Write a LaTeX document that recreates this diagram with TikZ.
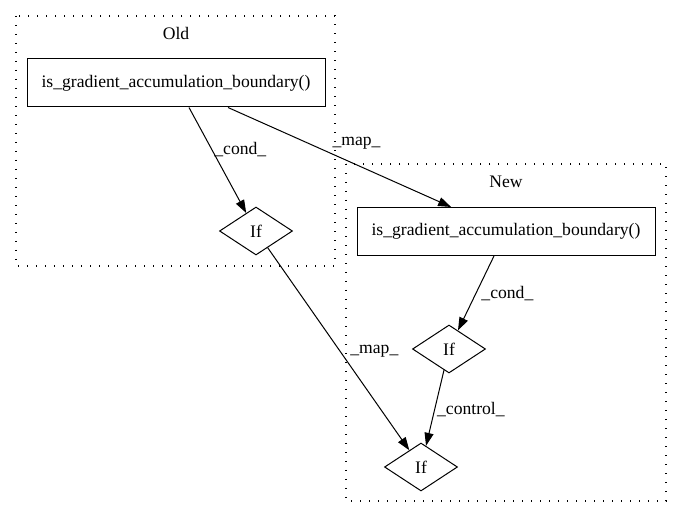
\documentclass[tikz,border=0pt]{standalone}
\usepackage{fontspec}
\setmainfont{Liberation Serif}
\usetikzlibrary{shapes.geometric,arrows.meta}
\tikzset{
  cluster/.style={draw, line width=1.1pt, dash pattern=on 1.1pt off 7.9pt},
  fnbox/.style={draw, rectangle, line width=1pt, minimum width=298pt, minimum height=48pt, inner sep=0pt},
  ifnode/.style={draw, diamond, line width=1pt, minimum width=73pt, minimum height=48pt, inner sep=0pt},
  flow/.style={-{Triangle[length=13pt,width=9pt]}, line width=1pt},
  lbl/.style={right, inner sep=2pt}
}
\begin{document}
\begin{tikzpicture}[x=1pt,y=-1pt,font=\fontsize{17.6}{20}\selectfont]
  \useasboundingbox (0,0) rectangle (683,518);
  % Cluster Old
  \draw[cluster] (16,16) rectangle (335,266);
  \node (oldtitle) at (176,33) {Old};
  \node[fnbox] (oldfn) at (176,83) {is\_gradient\_accumulation\_boundary()};
  \node[ifnode] (oldif) at (256,231) {If};
  % Cluster New
  \draw[cluster] (346,164) rectangle (666,501);
  \node (newtitle) at (506,182) {New};
  \node[fnbox] (newfn) at (506,231.5) {is\_gradient\_accumulation\_boundary()};
  \node[ifnode] (newif) at (449,349) {If};
  \node[ifnode] (endif) at (421,467) {If};
  % Kanten
  \draw[flow] ([xshift=13pt]oldfn.south) -- node[lbl, pos=0.4] {\_cond\_} (oldif);
  \draw[flow] ([xshift=52pt]oldfn.south) -- node[pos=0.5, xshift=17pt, yshift=14pt] {\_map\_} (newfn);
  \draw[flow] (oldif) -- node[lbl, pos=0.51, xshift=8pt] {\_map\_} (endif);
  \draw[flow] ([xshift=-12pt]newfn.south) -- node[lbl, pos=0.5, xshift=3pt] {\_cond\_} (newif);
  \draw[flow] (newif) -- node[lbl, pos=0.52] {\_control\_} (endif);
\end{tikzpicture}
\end{document}
